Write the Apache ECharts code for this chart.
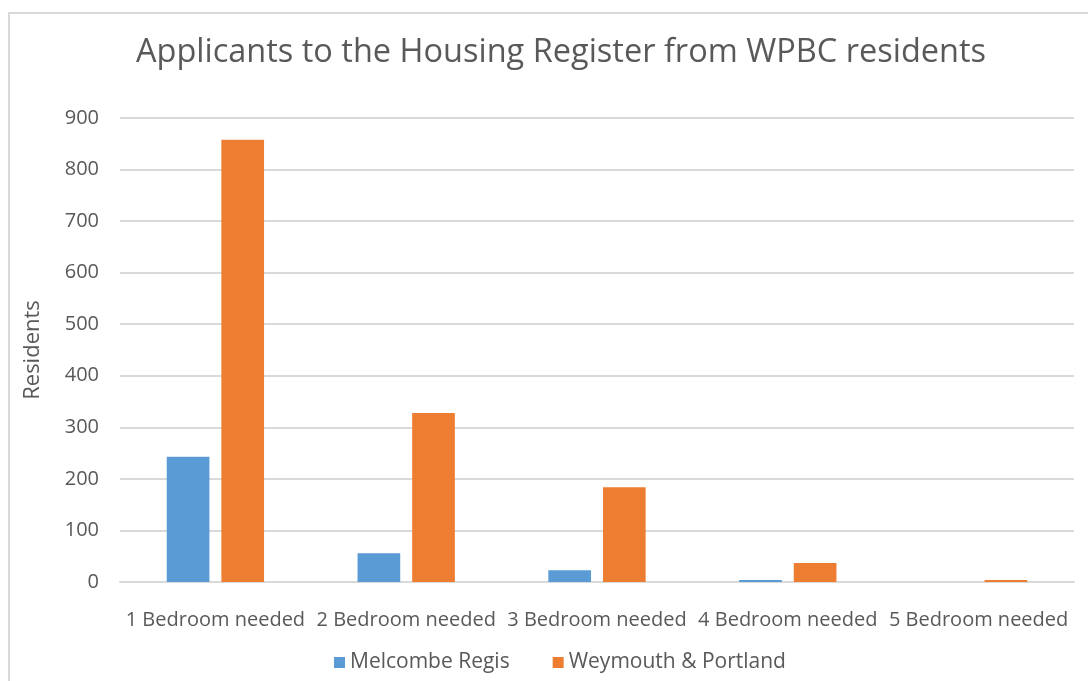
<!DOCTYPE html>
<html>
<head>
<meta charset="utf-8">
<script src="https://cdn.jsdelivr.net/npm/echarts@6/dist/echarts.min.js"></script>
<style>
  html, body { margin: 0; padding: 0; background: #fff; }
  #chart { width: 1088px; height: 681px; }
</style>
</head>
<body>
<div id="chart"></div>
<script>
var categories = ["1 Bedroom needed", "2 Bedroom needed", "3 Bedroom needed", "4 Bedroom needed", "5 Bedroom needed"];
var melcombeRegis = [243, 56, 23, 4, 0];
var weymouthPortland = [858, 328, 184, 37, 4];
var seriesNames = ["Melcombe Regis", "Weymouth & Portland"];

var font = "'Open Sans', sans-serif";
var textColor = "#595959";

var chart = echarts.init(document.getElementById("chart"));
chart.setOption({
  animation: false,
  graphic: [{
    type: "rect",
    shape: { x: 9, y: 13, width: 1200, height: 800 },
    style: { fill: "none", stroke: "#d9d9d9", lineWidth: 2 },
    silent: true
  }],
  title: {
    text: "Applicants to the Housing Register from WPBC residents",
    left: 556, top: 31, textAlign: "center",
    textStyle: { fontFamily: font, fontSize: 32.5, fontWeight: "normal", color: textColor }
  },
  legend: {
    data: seriesNames,
    bottom: 3, left: 329,
    itemWidth: 11, itemHeight: 11, itemGap: 43, icon: "rect",
    textStyle: { fontFamily: font, fontSize: 21, color: textColor }
  },
  grid: { left: 120, right: 14, top: 118, bottom: 99 },
  xAxis: {
    type: "category",
    data: categories,
    axisLine: { lineStyle: { color: "#d9d9d9", width: 2 } },
    axisTick: { show: false },
    axisLabel: { fontFamily: font, fontSize: 20, color: textColor, margin: 28, interval: 0 }
  },
  yAxis: {
    type: "value",
    min: 0, max: 900, interval: 100,
    name: "Residents",
    nameLocation: "middle",
    nameGap: 76,
    nameTextStyle: { fontFamily: font, fontSize: 22, color: textColor },
    axisLine: { show: false },
    axisTick: { show: false },
    axisLabel: { fontFamily: font, fontSize: 20, color: textColor, margin: 21 },
    splitLine: { lineStyle: { color: "#d9d9d9", width: 2 } }
  },
  series: [{
    name: seriesNames[0],
    type: "bar",
    data: melcombeRegis,
    itemStyle: { color: "#5b9bd5" },
    barGap: "28%",
    barCategoryGap: "49%"
  }, {
    name: seriesNames[1],
    type: "bar",
    data: weymouthPortland,
    itemStyle: { color: "#ed7d31" }
  }]
});
</script>
</body>
</html>
